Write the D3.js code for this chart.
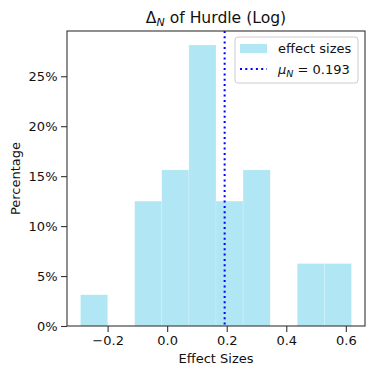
<!DOCTYPE html>
<html><head><meta charset="utf-8">
<script src="https://cdn.jsdelivr.net/npm/d3@7"></script>
<style>body{margin:0;background:#fff}svg{display:block;font-family:"DejaVu Sans",sans-serif}</style>
</head><body>
<script>
// Histogram bins (effect size edges) and percentages
const binEdges = [-0.291, -0.200, -0.109, -0.018, 0.073, 0.164, 0.255, 0.346, 0.437, 0.528, 0.619];
const percentages = [3.125, 0, 12.5, 15.625, 28.125, 12.5, 15.625, 0, 6.25, 6.25];
const meanValue = 0.193;
const xTicks = [-0.2, 0.0, 0.2, 0.4, 0.6];
const yTicks = [0, 5, 10, 15, 20, 25];

const W = 375, H = 377;
const m = {left: 67, right: 365, top: 31, bottom: 326};
const barColor = "rgb(177,230,244)";
const svg = d3.select("body").append("svg").attr("width", W).attr("height", H);

const x = d3.scaleLinear().domain([-0.3364, 0.6644]).range([m.left, m.right]);
const y = d3.scaleLinear().domain([0, 29.53]).range([m.bottom, m.top]);

const bins = percentages.map((p, i) => ({x0: binEdges[i], x1: binEdges[i + 1], p}));
svg.append("g").selectAll("rect").data(bins.filter(d => d.p > 0)).join("rect")
  .attr("x", d => x(d.x0)).attr("width", d => x(d.x1) - x(d.x0))
  .attr("y", d => y(d.p)).attr("height", d => y(0) - y(d.p))
  .attr("fill", barColor)
  .attr("stroke", "#fff").attr("stroke-opacity", 0.3).attr("stroke-width", 0.6);

svg.append("line").attr("x1", x(meanValue)).attr("x2", x(meanValue))
  .attr("y1", m.top).attr("y2", m.bottom)
  .attr("stroke", "blue").attr("stroke-width", 2).attr("stroke-dasharray", "2,3.3");

// axes
const xAxis = svg.append("g").attr("transform", `translate(0,${m.bottom})`)
  .call(d3.axisBottom(x).tickValues(xTicks).tickFormat(d => d3.format(".1f")(d).replace("-", "\u2212")).tickSize(6).tickSizeOuter(0));
const yAxis = svg.append("g").attr("transform", `translate(${m.left},0)`)
  .call(d3.axisLeft(y).tickValues(yTicks).tickFormat(d => d + "%").tickSize(6).tickSizeOuter(0));
[xAxis, yAxis].forEach(g => {
  g.select(".domain").remove();
  g.selectAll("line").attr("stroke", "#333").attr("stroke-width", 1.1);
  g.selectAll("text").attr("font-size", 13).attr("fill", "#111").attr("font-family", "DejaVu Sans");
});
xAxis.selectAll("text").attr("dy", "0.71em").attr("y", 9.5);
yAxis.selectAll("text").attr("x", -9.5);

svg.append("rect").attr("x", m.left).attr("y", m.top).attr("width", m.right - m.left).attr("height", m.bottom - m.top)
  .attr("fill", "none").attr("stroke", "#333").attr("stroke-width", 1.1);

// labels
svg.append("text").attr("x", (m.left + m.right) / 2).attr("y", 363).attr("text-anchor", "middle")
  .attr("font-size", 13).attr("fill", "#111").text("Effect Sizes");
svg.append("text").attr("transform", `translate(20,${(m.top + m.bottom) / 2}) rotate(-90)`)
  .attr("text-anchor", "middle").attr("font-size", 13).attr("fill", "#111").text("Percentage");
const title = svg.append("text").attr("x", (m.left + m.right) / 2).attr("y", 23).attr("text-anchor", "middle")
  .attr("font-size", 15.6).attr("fill", "#111");
title.append("tspan").text("\u0394");
title.append("tspan").attr("font-size", 11).attr("font-style", "italic").attr("dy", 3).text("N");
title.append("tspan").attr("dy", -3).text(" of Hurdle (Log)");

// legend
const lg = svg.append("g");
lg.append("rect").attr("x", 235).attr("y", 37).attr("width", 123).attr("height", 46).attr("rx", 3)
  .attr("fill", "#fff").attr("fill-opacity", 0.8).attr("stroke", "#ccc").attr("stroke-width", 1);
lg.append("rect").attr("x", 240).attr("y", 44).attr("width", 27).attr("height", 9)
  .attr("fill", barColor);
lg.append("line").attr("x1", 240).attr("x2", 267).attr("y1", 69).attr("y2", 69)
  .attr("stroke", "blue").attr("stroke-width", 2).attr("stroke-dasharray", "2,3.3");
lg.append("text").attr("x", 278).attr("y", 53).attr("font-size", 13).attr("fill", "#111").text("effect sizes");
const mt = lg.append("text").attr("x", 278).attr("y", 74).attr("font-size", 13).attr("fill", "#111");
mt.append("tspan").attr("font-style", "italic").text("\u03bc");
mt.append("tspan").attr("font-style", "italic").attr("font-size", 9.5).attr("dy", 3).text("N");
mt.append("tspan").attr("dy", -3).text(" = " + meanValue);
</script>
</body></html>
